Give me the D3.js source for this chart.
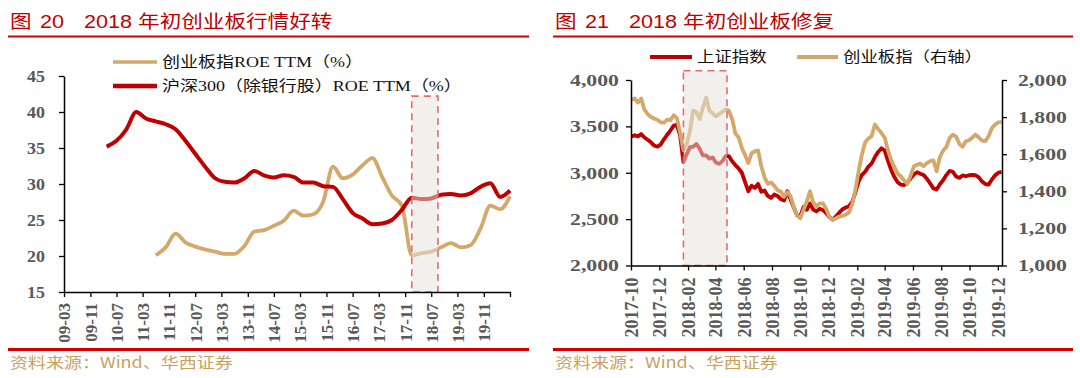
<!DOCTYPE html>
<html><head><meta charset="utf-8">
<script src="https://cdn.jsdelivr.net/npm/d3@7"></script>
<style>body{margin:0;background:#fff}svg{display:block}text{white-space:pre}</style>
</head><body><svg id="c" width="1080" height="378"></svg>
<script>
// ---------------- DATA ----------------
// Left chart: ROE TTM (%), quarterly samples
const leftTickLabels = ["09-03","09-11","10-07","11-03","11-11","12-07","13-03","13-11","14-07","15-03","15-11","16-07","17-03","17-11","18-07","19-03","19-11"];
const leftAxisEnd = "2020-07";
const leftYTicks = [15,20,25,30,35,40,45];
const hs300Start = "2010-04";
const hs300Roe = [35.2,36.0,37.6,40.0,39.1,38.7,38.3,37.6,36.0,34.2,32.4,30.8,30.3,30.2,30.8,31.8,31.2,30.9,31.2,31.0,30.2,30.2,29.7,29.6,27.9,26.0,25.2,24.4,24.5,25.0,26.4,28.1,27.9,28.0,28.5,28.6,28.4,28.7,29.6,30.1,28.2,29.1];
const cybRoeStart = "2011-07";
const cybRoe = [20.1,21.2,23.1,21.9,21.3,20.9,20.6,20.3,20.3,21.4,23.4,23.6,24.2,24.9,26.3,25.6,25.8,27.5,32.4,30.8,31.3,32.6,33.6,31.0,28.4,27.0,20.1,20.4,20.6,21.2,21.8,21.2,21.5,23.8,27.0,26.5,28.3];
const leftHighlight = ["2018-01","2018-09"];
const leftHighlightTop = 42.2;
const leftLegend = ["创业板指ROE TTM（%）","沪深300（除银行股）ROE TTM（%）"];

// Right chart: weekly index levels
const rightTickLabels = ["2017-10","2017-12","2018-02","2018-04","2018-06","2018-08","2018-10","2018-12","2019-02","2019-04","2019-06","2019-08","2019-10","2019-12"];
const rightDomain = ["2017-10-01","2019-12-10"];
const weekStart = "2017-10-02";
const rightYTicksL = [2000,2500,3000,3500,4000];
const rightYTicksR = [1000,1200,1400,1600,1800,2000];
const shIndex = [3390,3405,3392,3418,3380,3355,3328,3293,3281,3304,
3360,3410,3455,3508,3515,3400,3115,3198,3275,3281,
3311,3258,3188,3188,3152,3165,3110,3096,3125,3180,
3180,3124,3083,3047,3000,2900,2800,2860,2836,2880,
2795,2808,2750,2728,2765,2750,2715,2700,2800,2715,
2625,2543,2530,2630,2600,2668,2603,2583,2613,2597,
2565,2520,2495,2530,2570,2607,2625,2640,2685,2790,
2910,2978,3012,3066,3100,3170,3225,3265,3240,3130,
3030,2953,2897,2872,2868,2894,2940,2982,3005,2990,
2976,2935,2885,2832,2820,2876,2919,2975,3020,3011,
2960,2945,2971,2962,2973,2976,2973,2950,2905,2878,
2872,2925,2970,3000,3011];
const cybIndex = [1893,1900,1878,1900,1840,1816,1800,1792,1786,1772,
1770,1786,1784,1810,1794,1715,1622,1655,1722,1835,
1828,1790,1850,1905,1835,1820,1804,1816,1828,1840,
1835,1790,1712,1692,1633,1595,1553,1605,1615,1620,
1535,1475,1440,1448,1430,1405,1400,1370,1395,1375,
1315,1270,1254,1300,1345,1400,1340,1320,1335,1335,
1305,1260,1247,1255,1264,1268,1274,1285,1330,1410,
1510,1600,1665,1685,1698,1760,1735,1714,1690,1622,
1568,1530,1495,1481,1458,1440,1485,1535,1543,1549,
1535,1552,1563,1567,1508,1585,1620,1638,1688,1705,
1695,1656,1640,1670,1675,1690,1706,1690,1673,1670,
1697,1740,1760,1771,1775];
const rightHighlight = ["2018-01-22","2018-04-26"];
const rightHighlightTop = 4100;
const rightLegend = ["上证指数","创业板指（右轴）"];

const titles = [["图","20","2018 年初创业板行情好转"],["图","21","2018 年初创业板修复"]];
const sourceText = "资料来源：Wind、华西证券";

// ---------------- STYLE ----------------
const SX = 1.2;
const RED = "#c00000", TAN = "#d4a76a", RULE = "#d40000", GRAY = "#595959", SRC = "#c9a15e";
const serif = "'Liberation Serif','Noto Sans CJK SC',serif";
const sans = "'Liberation Sans','Noto Sans CJK SC',sans-serif";
const cjk = "'Noto Sans CJK SC',sans-serif";
const svg = d3.select("#c");

function stext(g, x, y, s, o = {}) {
  return g.append("text")
    .attr("transform", `translate(${x},${y}) scale(${o.sx ?? SX},1)`)
    .attr("font-family", o.ff || cjk).attr("font-size", o.fs || 15)
    .attr("fill", o.fill || "#111").attr("font-weight", o.fw || "normal")
    .attr("text-anchor", o.anchor || "start").text(s);
}

function header(x0, x1, t) {
  stext(svg, x0 + 2, 28, t[0], {ff: sans, fs: 18, fill: RED});
  stext(svg, x0 + 32, 28, t[1], {ff: sans, fs: 18, fill: RED});
  stext(svg, x0 + 76, 28, t[2], {ff: sans, fs: 18, fill: RED});
  svg.append("line").attr("x1", x0).attr("x2", x1).attr("y1", 36.5).attr("y2", 36.5)
    .attr("stroke", RULE).attr("stroke-width", 2);
  svg.append("line").attr("x1", x0).attr("x2", x1).attr("y1", 349.5).attr("y2", 349.5)
    .attr("stroke", RULE).attr("stroke-width", 3);
  stext(svg, x0 + 2, 368, sourceText, {ff: cjk, fs: 15, fill: SRC});
}
header(8, 529, titles[0]);
header(553, 1073, titles[1]);

function styleAxis(g) {
  g.select(".domain").attr("stroke", "#000").attr("stroke-width", 1.5);
  g.selectAll(".tick line").attr("stroke", "#000").attr("stroke-width", 1.3);
  g.selectAll("text").attr("font-family", serif).attr("font-weight", "bold").attr("fill", GRAY);
}

// ---------------- LEFT CHART ----------------
const pM = d3.timeParse("%Y-%m");
const xL = d3.scaleTime().domain([pM("2009-03"), pM(leftAxisEnd)]).range([64, 510]);
const yL = d3.scaleLinear().domain([15, 45]).range([292, 76]);

const hsData = hs300Roe.map((v, i) => ({d: d3.timeMonth.offset(pM(hs300Start), 3 * i), v}));
const cyData = cybRoe.map((v, i) => ({d: d3.timeMonth.offset(pM(cybRoeStart), 3 * i), v}));
const lineL = d3.line().x(d => xL(d.d)).y(d => yL(d.v)).curve(d3.curveMonotoneX);

svg.append("path").datum(cyData).attr("d", lineL).attr("fill", "none").attr("stroke", TAN).attr("stroke-width", 3.8).attr("stroke-linejoin", "round");
svg.append("path").datum(hsData).attr("d", lineL).attr("fill", "none").attr("stroke", RED).attr("stroke-width", 4).attr("stroke-linejoin", "round");

const hlx0 = xL(pM(leftHighlight[0])), hlx1 = xL(pM(leftHighlight[1]));
svg.append("rect").attr("x", hlx0).attr("y", yL(leftHighlightTop)).attr("width", hlx1 - hlx0).attr("height", yL(15) - yL(leftHighlightTop))
  .attr("fill", "#e6e2da").attr("fill-opacity", 0.5).attr("stroke", "#e46c6c").attr("stroke-width", 1.6).attr("stroke-dasharray", "7,5");

const xTickDates = leftTickLabels.map(l => pM("20" + l)).concat([pM(leftAxisEnd)]);
const gxL = svg.append("g").attr("transform", `translate(0,${yL(15)})`)
  .call(d3.axisBottom(xL).tickValues(xTickDates).tickSize(5).tickSizeOuter(0)
    .tickFormat((d, i) => i < leftTickLabels.length ? leftTickLabels[i] : ""));
styleAxis(gxL);
gxL.selectAll("text").attr("transform", "rotate(-90)").attr("x", -11).attr("y", 0).attr("dy", "0.35em")
  .attr("text-anchor", "end").attr("font-size", 17);

const gyL = svg.append("g").attr("transform", `translate(${xL.range()[0]},0)`)
  .call(d3.axisLeft(yL).tickValues(leftYTicks).tickSize(5).tickSizeOuter(0));
styleAxis(gyL);
gyL.selectAll("text").attr("font-size", 16).attr("x", -19 / 1.12).attr("transform", "scale(1.12,1)");

// legend left
[[TAN, leftLegend[0], 62, 3.6], [RED, leftLegend[1], 86, 4.4]].forEach(([c, t, y, w]) => {
  svg.append("line").attr("x1", 113).attr("x2", 157).attr("y1", y).attr("y2", y).attr("stroke", c).attr("stroke-width", w);
  stext(svg, 162, y + 5, t, {ff: serif, fs: 15, fill: "#111"});
});

// ---------------- RIGHT CHART ----------------
const pD = d3.timeParse("%Y-%m-%d");
const xR = d3.scaleTime().domain(rightDomain.map(pD)).range([631, 1002]);
const yR1 = d3.scaleLinear().domain([2000, 4000]).range([265.5, 80]);
const yR2 = d3.scaleLinear().domain([1000, 2000]).range([265.5, 80]);

const shData = shIndex.map((v, i) => ({d: d3.timeDay.offset(pD(weekStart), 7 * i), v}));
const cyiData = cybIndex.map((v, i) => ({d: d3.timeDay.offset(pD(weekStart), 7 * i), v}));

svg.append("path").datum(shData).attr("d", d3.line().x(d => xR(d.d)).y(d => yR1(d.v)))
  .attr("fill", "none").attr("stroke", RED).attr("stroke-width", 3.8).attr("stroke-linejoin", "round");
svg.append("path").datum(cyiData).attr("d", d3.line().x(d => xR(d.d)).y(d => yR2(d.v)))
  .attr("fill", "none").attr("stroke", TAN).attr("stroke-width", 3.8).attr("stroke-linejoin", "round");

const rhx0 = xR(pD(rightHighlight[0])), rhx1 = xR(pD(rightHighlight[1]));
svg.append("rect").attr("x", rhx0).attr("y", yR1(rightHighlightTop)).attr("width", rhx1 - rhx0).attr("height", yR1(2000) - yR1(rightHighlightTop))
  .attr("fill", "#e6e2da").attr("fill-opacity", 0.5).attr("stroke", "#e46c6c").attr("stroke-width", 1.6).attr("stroke-dasharray", "7,5");

const gxR = svg.append("g").attr("transform", `translate(0,${yR1(2000)})`)
  .call(d3.axisBottom(xR).tickValues(rightTickLabels.map(pM)).tickSize(5).tickSizeOuter(0)
    .tickFormat((d, i) => rightTickLabels[i]));
styleAxis(gxR);
gxR.selectAll("text").attr("transform", "rotate(-90)").attr("x", -12).attr("y", 0).attr("dy", "0.35em")
  .attr("text-anchor", "end").attr("font-size", 18);

const fmt = d3.format(",");
const gyR1 = svg.append("g").attr("transform", `translate(${xR.range()[0]},0)`)
  .call(d3.axisLeft(yR1).tickValues(rightYTicksL).tickSize(5).tickSizeOuter(0).tickFormat(fmt));
styleAxis(gyR1);
gyR1.selectAll("text").attr("font-size", 17).attr("x", -12 / 1.28).attr("transform", "scale(1.28,1)");

const gyR2 = svg.append("g").attr("transform", `translate(${xR.range()[1]},0)`)
  .call(d3.axisRight(yR2).tickValues(rightYTicksR).tickSize(5).tickSizeOuter(0).tickFormat(fmt));
styleAxis(gyR2);
gyR2.selectAll("text").attr("font-size", 17).attr("x", 16 / 1.28).attr("transform", "scale(1.28,1)");

// legend right
[[RED, rightLegend[0], 650, 692, 697], [TAN, rightLegend[1], 797, 838, 843]].forEach(([c, t, a, b, tx]) => {
  svg.append("line").attr("x1", a).attr("x2", b).attr("y1", 57).attr("y2", 57).attr("stroke", c).attr("stroke-width", 4);
  stext(svg, tx, 62, t, {ff: cjk, fs: 14.5, fill: "#111"});
});
</script></body></html>
